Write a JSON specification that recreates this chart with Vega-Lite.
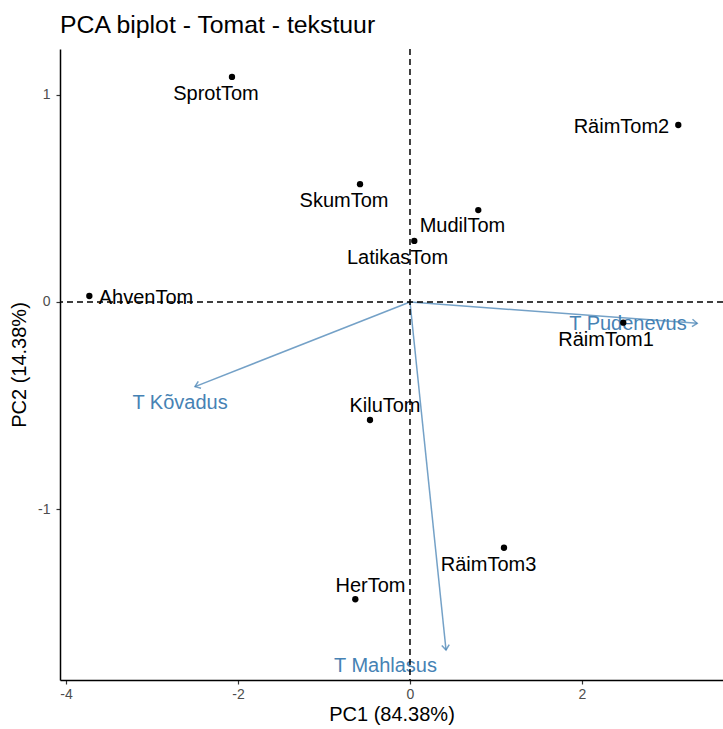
{
  "$schema": "https://vega.github.io/schema/vega-lite/v6.json",
  "width": 663,
  "height": 631,
  "autosize": {"type": "none"},
  "padding": {"left": 60, "top": 49, "right": 0, "bottom": 49},
  "title": {"text": "PCA biplot - Tomat - tekstuur", "anchor": "start", "frame": "group", "fontSize": 24.8, "font": "Liberation Sans", "fontWeight": "normal", "color": "#000000", "offset": 10},
  "datasets": {
    "ind": [
      {"name": "SprotTom", "x": -2.07, "y": 1.087, "lx": -2.256, "ly": 1.005},
      {"name": "RäimTom2", "x": 3.12, "y": 0.855, "lx": 2.459, "ly": 0.845},
      {"name": "SkumTom", "x": -0.581, "y": 0.569, "lx": -0.767, "ly": 0.488},
      {"name": "MudilTom", "x": 0.794, "y": 0.444, "lx": 0.61, "ly": 0.367},
      {"name": "LatikasTom", "x": 0.05, "y": 0.295, "lx": -0.145, "ly": 0.213},
      {"name": "AhvenTom", "x": -3.729, "y": 0.029, "lx": -3.07, "ly": 0.019},
      {"name": "RäimTom1", "x": 2.48, "y": -0.1, "lx": 2.28, "ly": -0.184},
      {"name": "KiluTom", "x": -0.465, "y": -0.57, "lx": -0.291, "ly": -0.502},
      {"name": "RäimTom3", "x": 1.093, "y": -1.187, "lx": 0.913, "ly": -1.271},
      {"name": "HerTom", "x": -0.636, "y": -1.436, "lx": -0.459, "ly": -1.372}
    ],
    "var": [
      {"name": "T Pudenevus", "x": 3.34, "y": -0.103, "lx": 2.535, "ly": -0.106},
      {"name": "T Kõvadus", "x": -2.5, "y": -0.409, "lx": -2.674, "ly": -0.49},
      {"name": "T Mahlasus", "x": 0.419, "y": -1.681, "lx": -0.285, "ly": -1.758}
    ],
    "ref": [{"v": 0}]
  },
  "layer": [
    {
      "data": {"name": "var"},
      "mark": {"type": "rule", "color": "#4682B4", "opacity": 0.75, "strokeWidth": 1.5},
      "encoding": {
        "x": {"field": "x", "type": "quantitative", "scale": {"domain": [-4.07, 3.64], "nice": false, "zero": false},
          "axis": {"title": "PC1 (84.38%)", "values": [-4, -2, 0, 2], "labelExpr": "toString(datum.value)", "titlePadding": 3, "labelPadding": 3}},
        "y": {"field": "y", "type": "quantitative", "scale": {"domain": [-1.826, 1.222], "nice": false, "zero": false},
          "axis": {"title": "PC2 (14.38%)", "values": [-1, 0, 1], "labelExpr": "toString(datum.value)", "titlePadding": 8, "labelPadding": 6}},
        "x2": {"datum": 0}, "y2": {"datum": 0}}
    },
    {
      "data": {"name": "var"},
      "transform": [{"calculate": "atan2(-datum.y*207, datum.x*86)*180/PI", "as": "ang"}],
      "mark": {"type": "point", "shape": "M-1,-0.75L0,0L-1,0.75", "filled": false, "color": "#4682B4", "opacity": 0.75, "strokeWidth": 1.5, "size": 100},
      "encoding": {"x": {"field": "x", "type": "quantitative"}, "y": {"field": "y", "type": "quantitative"}, "angle": {"field": "ang", "type": "quantitative", "scale": null}}
    },
    {
      "data": {"name": "var"},
      "mark": {"type": "text", "color": "#4682B4", "fontSize": 20, "font": "Liberation Sans", "align": "center", "baseline": "middle"},
      "encoding": {"x": {"field": "lx", "type": "quantitative"}, "y": {"field": "ly", "type": "quantitative"}, "text": {"field": "name"}}
    },
    {
      "data": {"name": "ind"},
      "mark": {"type": "point", "filled": true, "color": "#000000", "opacity": 1, "size": 40},
      "encoding": {"x": {"field": "x", "type": "quantitative"}, "y": {"field": "y", "type": "quantitative"}}
    },
    {
      "data": {"name": "ind"},
      "mark": {"type": "text", "color": "#000000", "fontSize": 20, "font": "Liberation Sans", "align": "center", "baseline": "middle"},
      "encoding": {"x": {"field": "lx", "type": "quantitative"}, "y": {"field": "ly", "type": "quantitative"}, "text": {"field": "name"}}
    },
    {
      "data": {"name": "ref"},
      "mark": {"type": "rule", "color": "#000000", "strokeDash": [6, 4], "strokeWidth": 1.5},
      "encoding": {"x": {"field": "v", "type": "quantitative"}}
    },
    {
      "data": {"name": "ref"},
      "mark": {"type": "rule", "color": "#000000", "strokeDash": [6, 4], "strokeWidth": 1.5},
      "encoding": {"y": {"field": "v", "type": "quantitative"}}
    }
  ],
  "config": {
    "view": {"stroke": null},
    "font": "Liberation Sans",
    "axis": {"grid": false, "domainColor": "#000000", "domainWidth": 1.5, "tickColor": "#333333", "tickSize": 4, "tickWidth": 1.2,
      "labelColor": "#4D4D4D", "labelFontSize": 14, "labelFont": "Liberation Sans",
      "titleFont": "Liberation Sans", "titleFontSize": 20, "titleFontWeight": "normal", "titleColor": "#000000"}
  }
}
